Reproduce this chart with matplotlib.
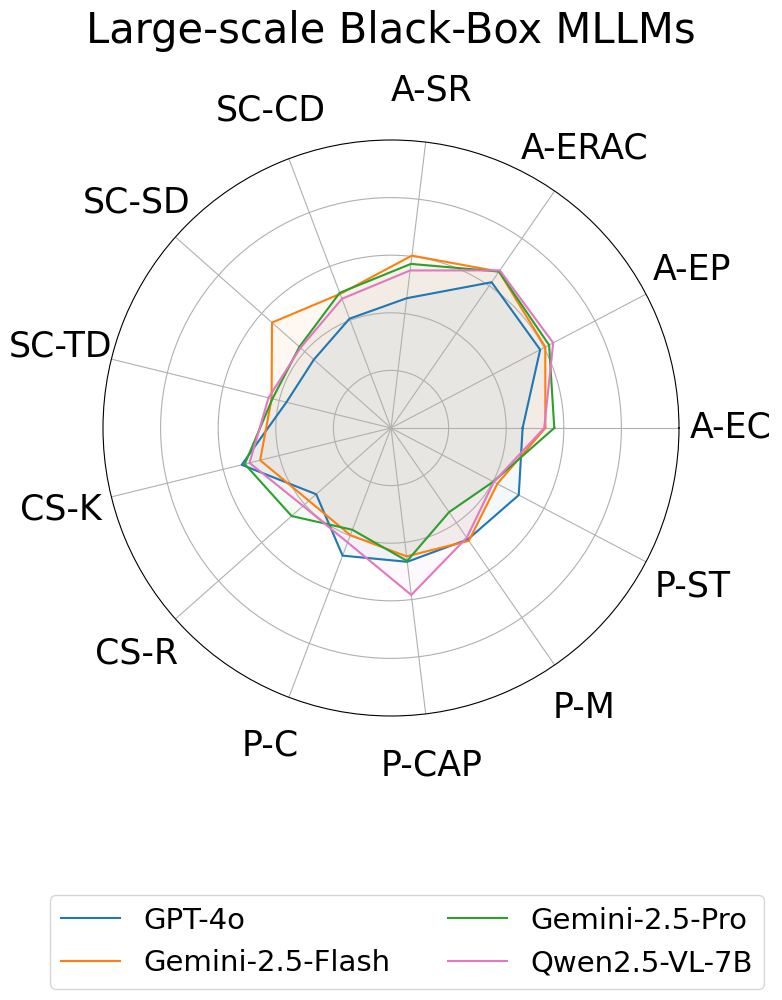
import numpy as np
import matplotlib
matplotlib.use("Agg")
import matplotlib.pyplot as plt

categories = ["A-EC", "A-EP", "A-ERAC", "A-SR", "SC-CD", "SC-SD", "SC-TD",
              "CS-K", "CS-R", "P-C", "P-CAP", "P-M", "P-ST"]

gpt4o = [45.7, 58.5, 61.5, 45.4, 40.6, 35.8, 37.4, 53.4, 34.7, 47.4, 46.8, 47.0, 50.1]
gemini_flash = [53.6, 60.5, 66.0, 60.3, 49.8, 55.2, 42.7, 46.8, 38.1, 39.8, 44.9, 47.6, 41.7]
gemini_pro = [56.7, 62.0, 66.0, 57.4, 50.2, 42.5, 42.4, 52.3, 46.1, 37.8, 46.5, 35.5, 40.1]
qwen = [53.2, 63.6, 66.5, 55.1, 48.0, 42.0, 43.8, 50.6, 40.8, 42.5, 58.4, 46.3, 40.3]

models = ["GPT-4o", "Gemini-2.5-Flash", "Gemini-2.5-Pro", "Qwen2.5-VL-7B"]
series = [gpt4o, gemini_flash, gemini_pro, qwen]
colors = ["#1f77b4", "#ff7f0e", "#2ca02c", "#e377c2"]

n = len(categories)
angles = np.linspace(0, 2 * np.pi, n, endpoint=False)
angles_closed = np.concatenate([angles, angles[:1]])

fig = plt.figure(figsize=(7.82, 10), dpi=100)
ax = fig.add_axes([0.1317, 0.284, 0.7366, 0.576], polar=True)

for name, vals, c in zip(models, series, colors):
    v = np.concatenate([vals, vals[:1]])
    ax.plot(angles_closed, v, color=c, linewidth=1.5, label=name)
    ax.fill(angles_closed, v, color=c, alpha=0.05)

ax.set_ylim(0, 100)
ax.set_yticks([20, 40, 60, 80])
ax.set_yticklabels([])
ax.set_xticks(angles)
ax.set_xticklabels(categories, fontsize=25)
ax.tick_params(axis="x", pad=27)
ax.grid(True, color="#b0b0b0", linewidth=0.8)

fig.text(0.5, 1 - 43 / 1000, "Large-scale Black-Box MLLMs", fontsize=30,
         ha="center", va="baseline")

fig.legend(loc="center", bbox_to_anchor=(407 / 782, 1 - 942 / 1000), ncol=2,
           fontsize=21, frameon=True)

fig.savefig("out.png", dpi=100)
